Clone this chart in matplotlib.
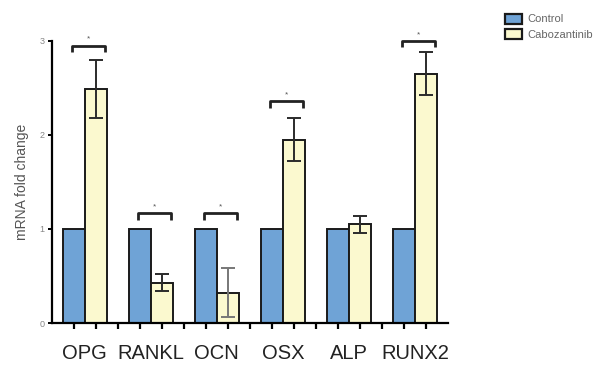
import numpy as np
import matplotlib.pyplot as plt
from matplotlib.patches import Patch

plt.rcParams['font.family'] = ['Liberation Sans', 'DejaVu Sans']

genes = ["OPG", "RANKL", "OCN", "OSX", "ALP", "RUNX2"]
control = [1.0, 1.0, 1.0, 1.0, 1.0, 1.0]
cabo = [2.49, 0.43, 0.32, 1.95, 1.05, 2.65]
cabo_err = [0.31, 0.09, 0.26, 0.23, 0.09, 0.23]
# bracket heights for the significant genes (None = no star)
sig_y = [2.95, 1.17, 1.17, 2.36, None, 3.0]

blue = "#6fa3d6"
yellow = "#fbf9cf"

fig = plt.figure(figsize=(6.02, 3.65), dpi=100)
ax = fig.add_axes([0.086, 0.115, 0.658, 0.773])

x_ctrl = np.arange(len(genes)) * 3 + 1
x_cabo = x_ctrl + 1

ax.bar(x_ctrl, control, width=1.0, color=blue, edgecolor="#1a1a1a", linewidth=1.4, label="Control")
ax.bar(x_cabo, cabo, width=1.0, color=yellow, edgecolor="#1a1a1a", linewidth=1.4, label="Cabozantinib")
errc = ["#2b2b2b", "#2b2b2b", "#777777", "#2b2b2b", "#2b2b2b", "#2b2b2b"]
for xi, v, e, c in zip(x_cabo, cabo, cabo_err, errc):
    ax.errorbar(xi, v, yerr=e, fmt="none", ecolor=c, elinewidth=1.4, capsize=5, capthick=1.4)

# significance brackets
for xc, xb, y in zip(x_ctrl, x_cabo, sig_y):
    if y is None:
        continue
    x0, x1 = xc - 0.1, xb + 0.4
    ax.plot([x0, x0, x1, x1], [y - 0.07, y, y, y - 0.07], color="#222222", lw=2.0, clip_on=False,
            solid_capstyle="butt")
    ax.text((x0 + x1) / 2, y + 0.03, "*", ha="center", va="bottom", fontsize=6, color="#555555")

ax.set_xlim(0, 18)
ax.set_ylim(0, 3)
ax.spines["top"].set_visible(False)
ax.spines["right"].set_visible(False)
ax.spines["left"].set_linewidth(1.6)
ax.spines["bottom"].set_linewidth(1.6)

ax.set_xticks(np.arange(1, 18))
ax.set_xticklabels([])
ax.tick_params(axis="x", length=4, width=1.6, direction="out")
for xc, g in zip(x_ctrl, genes):
    ax.text(xc + 0.5, -0.22, g, ha="center", va="top", fontsize=14.5, color="#222222",
            transform=ax.transData)

ax.set_yticks([0, 1, 2, 3])
ax.tick_params(axis="y", length=3, width=1.4, labelsize=6.5, labelcolor="#888888", pad=2)
ax.set_ylabel("mRNA fold change", fontsize=10, color="#555555", labelpad=8)

handles = [Patch(facecolor=blue, edgecolor="#1a1a1a", linewidth=1.6, label="Control"),
           Patch(facecolor=yellow, edgecolor="#1a1a1a", linewidth=1.6, label="Cabozantinib")]
fig.legend(handles=handles, loc="upper left", bbox_to_anchor=(0.822, 0.99), frameon=False,
           fontsize=8, labelcolor="#666666", handlelength=1.5, handleheight=1.0,
           handletextpad=0.5, labelspacing=0.45)

fig.savefig("out.png", dpi=100)
